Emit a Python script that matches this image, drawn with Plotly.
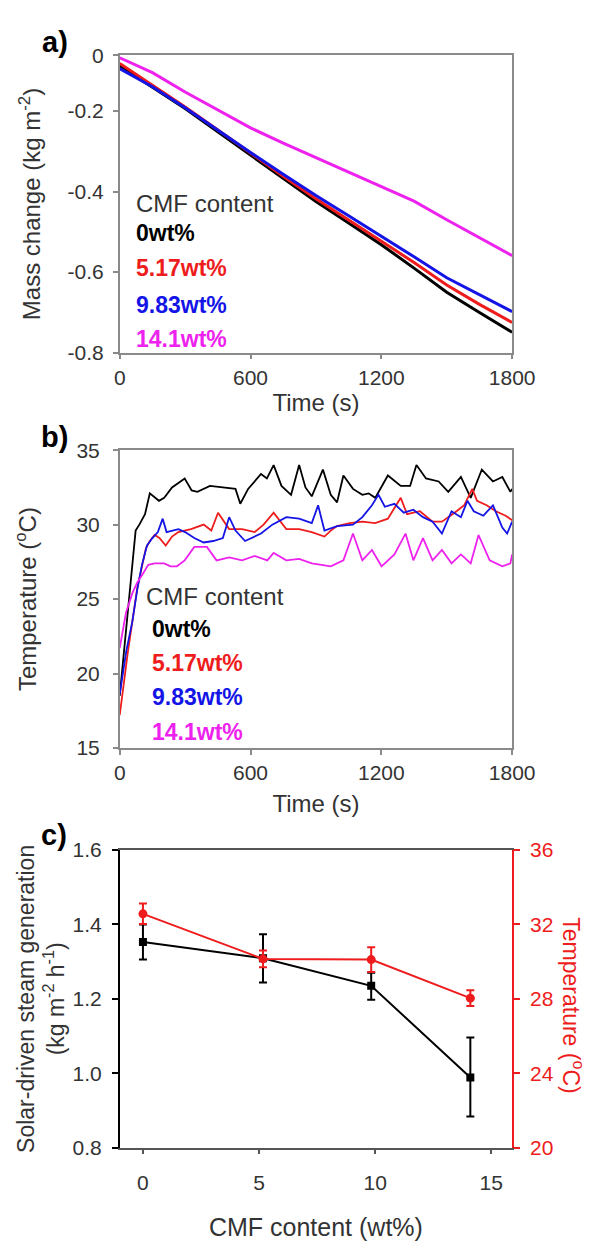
import plotly.graph_objects as go

W, H = 610, 1242
FONT = "Liberation Sans, Arial, sans-serif"
TXT = "#333333"
RED = "#ee1c1c"
BLUE = "#1414e6"
MAG = "#ee22ee"

# ---------------- panel a: mass change ----------------
mass_time = [0, 150, 300, 450, 600, 750, 900, 1050, 1200, 1350, 1500, 1650, 1800]
mass_0wt = [-0.088, -0.140, -0.194, -0.252, -0.310, -0.368, -0.425, -0.478, -0.532, -0.590, -0.650, -0.700, -0.749]
mass_517 = [-0.082, -0.136, -0.190, -0.247, -0.305, -0.362, -0.418, -0.470, -0.522, -0.576, -0.632, -0.680, -0.725]
mass_983 = [-0.095, -0.140, -0.192, -0.248, -0.303, -0.357, -0.410, -0.460, -0.510, -0.562, -0.614, -0.656, -0.698]
mass_141 = [-0.068, -0.105, -0.153, -0.198, -0.242, -0.280, -0.316, -0.350, -0.386, -0.424, -0.470, -0.515, -0.559]
mass_ticks = [-0.062, -0.2, -0.4, -0.6, -0.8]
mass_ticktext = ["0", "-0.2", "-0.4", "-0.6", "-0.8"]

# ---------------- panel b: temperature ----------------
t_0wt = [0, 20, 44, 73, 90, 116, 138, 153, 180, 204, 240, 298, 330, 356, 414, 473, 531, 553, 589, 648, 675, 706,
         742, 786, 823, 852, 881, 932, 968, 997, 1026, 1070, 1113, 1142, 1172, 1230, 1289, 1332, 1361, 1405, 1463,
         1507, 1565, 1610, 1661, 1712, 1755, 1792, 1800]
T_0wt = [18.5, 21.5, 25.0, 29.6, 30.0, 30.7, 32.1, 31.9, 31.6, 31.8, 32.5, 33.1, 32.3, 32.2, 32.6, 32.5, 32.4, 31.4,
         32.4, 33.4, 33.1, 34.0, 32.6, 32.0, 34.0, 32.5, 31.9, 33.7, 32.0, 31.5, 33.3, 32.4, 32.0, 32.1, 31.8, 33.3,
         32.6, 32.6, 34.0, 33.1, 32.9, 32.2, 33.2, 31.8, 33.7, 32.9, 33.2, 32.2, 32.4]

t_517 = [0, 36, 80, 120, 138, 160, 182, 211, 240, 269, 327, 385, 420, 451, 502, 561, 619, 660, 706, 764, 823, 881,
         939, 968, 997, 1055, 1113, 1172, 1230, 1289, 1318, 1377, 1435, 1478, 1536, 1580, 1617, 1639, 1683, 1726,
         1770, 1800]
T_517 = [17.2, 21.3, 25.7, 28.4, 28.9, 29.3, 29.1, 28.6, 29.2, 29.5, 29.7, 30.0, 29.6, 30.8, 29.7, 29.7, 29.5, 30.0,
         30.8, 29.7, 29.7, 29.5, 29.2, 29.6, 29.9, 30.1, 30.2, 30.1, 30.4, 31.8, 30.7, 30.9, 30.2, 30.2, 30.8, 31.3,
         32.4, 31.6, 31.3, 30.9, 30.6, 30.3]

t_983 = [0, 30, 58, 80, 102, 125, 150, 175, 197, 215, 269, 300, 342, 385, 429, 473, 502, 531, 575, 604, 648, 700,
         764, 823, 881, 910, 939, 997, 1070, 1113, 1157, 1187, 1216, 1260, 1303, 1347, 1391, 1435, 1478, 1522, 1565,
         1595, 1624, 1668, 1712, 1755, 1777, 1800]
T_983 = [18.6, 21.5, 23.5, 25.6, 27.3, 28.6, 29.1, 29.5, 30.4, 29.5, 29.7, 29.5, 29.1, 28.8, 28.9, 29.1, 30.5, 29.6,
         28.9, 29.1, 29.4, 30.0, 30.5, 30.4, 30.1, 31.3, 29.6, 29.9, 30.0, 30.5, 31.3, 32.0, 31.2, 31.4, 30.8, 31.0,
         30.5, 30.2, 29.4, 30.9, 30.5, 31.6, 30.9, 30.6, 31.3, 29.8, 29.4, 30.2]

t_141 = [0, 29, 58, 80, 102, 131, 160, 204, 233, 262, 298, 342, 400, 444, 502, 561, 619, 677, 706, 764, 823, 881,
         968, 1026, 1070, 1113, 1157, 1201, 1260, 1311, 1347, 1391, 1435, 1478, 1522, 1565, 1610, 1646, 1697, 1755,
         1792, 1800]
T_141 = [21.7, 24.1, 25.4, 26.1, 26.6, 27.3, 27.4, 27.4, 27.2, 27.2, 27.6, 28.5, 28.5, 27.6, 27.8, 27.6, 27.9, 27.6,
         28.1, 27.6, 27.7, 27.4, 27.2, 27.6, 29.4, 27.6, 28.3, 27.2, 28.0, 29.4, 27.6, 29.1, 27.6, 28.3, 27.4, 28.0,
         27.4, 29.3, 27.6, 27.2, 27.4, 28.0]

# ---------------- panel c: steam generation & temperature ----------------
cmf_content = [0, 5.17, 9.83, 14.1]
steam_rate = [1.353, 1.309, 1.235, 0.989]
steam_err_plus = [0.047, 0.065, 0.035, 0.107]
steam_err_minus = [0.047, 0.065, 0.037, 0.105]
avg_temp = [32.57, 30.15, 30.11, 28.04]
temp_err = [0.55, 0.45, 0.67, 0.42]

series_names = ["0wt%", "5.17wt%", "9.83wt%", "14.1wt%"]
series_colors = ["#000000", RED, BLUE, MAG]


def px(x, y):
    return x / W, 1 - y / H


fig = go.Figure()

for ys, c, n in zip([mass_0wt, mass_517, mass_983, mass_141], series_colors, series_names):
    fig.add_trace(go.Scatter(x=mass_time, y=ys, mode="lines", line=dict(color=c, width=3),
                             name=n, xaxis="x", yaxis="y", showlegend=False))

for ts, ys, c, n in zip([t_0wt, t_517, t_983, t_141], [T_0wt, T_517, T_983, T_141], series_colors, series_names):
    fig.add_trace(go.Scatter(x=ts, y=ys, mode="lines", line=dict(color=c, width=1.8),
                             name=n, xaxis="x2", yaxis="y2", showlegend=False))

fig.add_trace(go.Scatter(x=cmf_content, y=steam_rate, mode="lines+markers",
                         line=dict(color="black", width=2),
                         marker=dict(symbol="square", size=8, color="black"),
                         error_y=dict(type="data", array=steam_err_plus, arrayminus=steam_err_minus,
                                      color="black", thickness=2, width=4),
                         xaxis="x3", yaxis="y3", showlegend=False, name="steam"))
fig.add_trace(go.Scatter(x=cmf_content, y=avg_temp, mode="lines+markers",
                         line=dict(color=RED, width=2),
                         marker=dict(symbol="circle", size=9, color=RED),
                         error_y=dict(type="data", array=temp_err, color=RED, thickness=2, width=4),
                         xaxis="x3", yaxis="y4", showlegend=False, name="temperature"))

xdom = [111 / W, 523 / W]
dom_a = [1 - 339 / H, 1 - 36 / H]
dom_b = [1 - 741.7 / H, 1 - 438.3 / H]
dom_c = [1 - 1149 / H, 1 - 845.7 / H]

tickfont = dict(family=FONT, size=21, color=TXT)
titlefont = dict(family=FONT, size=24, color=TXT)
GREY = "#8a8a8a"

common_box = dict(showline=True, linecolor=GREY, linewidth=1.5, mirror=True, ticks="outside",
                  ticklen=5, tickwidth=1.5, tickcolor=GREY, showgrid=False, zeroline=False,
                  tickfont=tickfont)

fig.update_layout(
    width=W, height=H, margin=dict(l=0, r=0, t=0, b=0),
    paper_bgcolor="white", plot_bgcolor="white",
    font=dict(family=FONT, color=TXT),
    xaxis=dict(domain=xdom, anchor="y", range=[0, 1800], tickvals=[0, 600, 1200, 1800],
               ticklabelstandoff=0,
               title=dict(text="Time (s)", font=titlefont, standoff=2), **common_box),
    yaxis=dict(domain=dom_a, anchor="x", range=[-0.8, -0.062], tickvals=mass_ticks, ticktext=mass_ticktext,
               ticklabelstandoff=5,
               title=dict(text="Mass change (kg m<sup>-2</sup>)", font=titlefont, standoff=20), **common_box),
    xaxis2=dict(domain=xdom, anchor="y2", range=[0, 1800], tickvals=[0, 600, 1200, 1800],
                title=dict(text="Time (s)", font=titlefont, standoff=12), **common_box),
    yaxis2=dict(domain=dom_b, anchor="x2", range=[15, 35], tickvals=[15, 20, 25, 30, 35],
                ticklabelstandoff=9,
                title=dict(text="Temperature (<sup>o</sup>C)", font=titlefont, standoff=33), **common_box),
    xaxis3=dict(domain=xdom, anchor="y3", range=[-1, 15.9], tickvals=[0, 5, 10, 15],
                showline=True, linecolor="#555555", linewidth=1.5, mirror=True, ticks="outside",
                ticklen=5, tickwidth=1.5, tickcolor="#555555", showgrid=False, zeroline=False,
                tickfont=tickfont, ticklabelstandoff=10,
                title=dict(text="CMF content (wt%)", font=dict(family=FONT, size=25, color=TXT), standoff=26)),
    yaxis3=dict(domain=dom_c, anchor="x3", range=[0.8, 1.6], tickvals=[0.8, 1.0, 1.2, 1.4, 1.6],
                tickformat=".1f", showline=True, linecolor="black", linewidth=1.5, ticks="outside",
                ticklen=6, tickwidth=1.5, tickcolor="black", showgrid=False, zeroline=False,
                tickfont=tickfont, ticklabelstandoff=6,
                title=dict(text="Solar-driven steam generation<br>(kg m<sup>-2</sup> h<sup>-1</sup>)",
                           font=dict(family=FONT, size=23, color=TXT), standoff=2)),
    yaxis4=dict(domain=dom_c, anchor="x3", overlaying="y3", side="right", range=[20, 36],
                tickvals=[20, 24, 28, 32, 36], showline=True, linecolor=RED, linewidth=1.5,
                ticks="outside", ticklen=6, tickwidth=1.5, tickcolor=RED, showgrid=False, zeroline=False,
                ticklabelstandoff=6,
                tickfont=dict(family=FONT, size=21, color=RED)),
)

annotations = []
# panel labels
for lbl, (x, y) in [("a)", (43, 22)), ("b)", (42, 425)), ("c)", (42, 830))]:
    ax, ay = px(x, y)
    annotations.append(dict(text="<b>%s</b>" % lbl, x=ax, y=ay, xref="paper", yref="paper",
                            xanchor="center", yanchor="middle", showarrow=False,
                            font=dict(family=FONT, size=29, color="black")))

# in-plot legends
for (hx, hy), (ex, eys) in [((126, 187), (126, [217, 253, 290, 325])),
                            ((136, 587), (143, [620, 655, 690, 725]))]:
    ax, ay = px(hx, hy)
    annotations.append(dict(text="CMF content", x=ax, y=ay, xref="paper", yref="paper",
                            xanchor="left", yanchor="middle", showarrow=False,
                            font=dict(family=FONT, size=24, color=TXT)))
    for n, c, ey in zip(series_names, series_colors, eys):
        ax, ay = px(ex, ey)
        annotations.append(dict(text="<b>%s</b>" % n, x=ax, y=ay, xref="paper", yref="paper",
                                xanchor="left", yanchor="middle", showarrow=False,
                                font=dict(family=FONT, size=23, color=c)))

# right-hand axis title of panel c (reads top-to-bottom)
ax, ay = px(586, 1004)
annotations.append(dict(text="Temperature (<sup>o</sup>C)", x=ax, y=ay, xref="paper", yref="paper",
                        xanchor="center", yanchor="middle", textangle=90, showarrow=False,
                        font=dict(family=FONT, size=23, color=RED)))

fig.update_layout(annotations=annotations)
fig.write_html("out.html")
